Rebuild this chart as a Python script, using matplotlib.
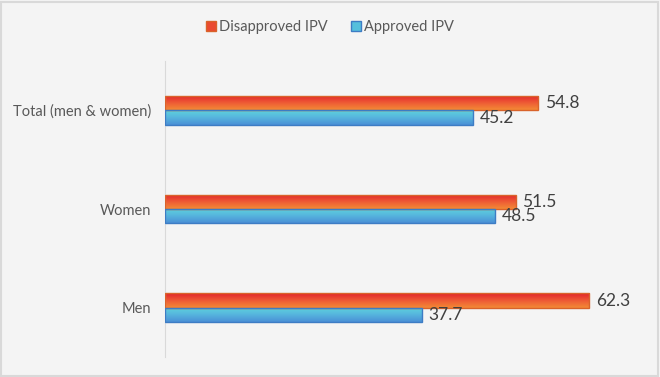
import numpy as np
import matplotlib
matplotlib.use("Agg")
import matplotlib.pyplot as plt
from matplotlib.colors import LinearSegmentedColormap
from matplotlib.patches import Patch, Rectangle

plt.rcParams["font.family"] = ["Lato", "DejaVu Sans"]

categories = ["Men", "Women", "Total (men & women)"]
disapproved = [62.3, 51.5, 54.8]
approved = [37.7, 48.5, 45.2]
series_names = ["Disapproved IPV", "Approved IPV"]

BG = "#f4f4f4"
red_cmap = LinearSegmentedColormap.from_list("red", ["#e2232b", "#ee5a35", "#f38a35"])
blue_cmap = LinearSegmentedColormap.from_list("blue", ["#5ed3dc", "#56b5de", "#4a8fd6"])


def gradient_fill(ax, bars, cmap):
    # paint a vertical gradient inside each bar, clipped to the bar shape
    grad = np.linspace(0, 1, 64).reshape(-1, 1)
    for b in bars:
        x0, y0 = b.get_x(), b.get_y()
        w, h = b.get_width(), b.get_height()
        im = ax.imshow(grad, cmap=cmap, aspect="auto", origin="upper",
                       extent=(x0, x0 + w, y0, y0 + h), zorder=2)
        im.set_clip_path(b)


fig = plt.figure(figsize=(6.6, 3.77), dpi=100, facecolor=BG)
fig.patches.append(Rectangle((0.002, 0.003), 0.995, 0.993, transform=fig.transFigure,
                             fill=False, edgecolor="#d9d9d9", linewidth=1.5))
ax = fig.add_axes([0.25, 0.053, 0.735, 0.785])
ax.set_facecolor(BG)

y = np.arange(len(categories))
h = 0.145
b_red = ax.barh(y + h / 2, disapproved, height=h, color="none",
                edgecolor="#d9632a", linewidth=1.0, zorder=3)
b_blue = ax.barh(y - h / 2, approved, height=h, color="none",
                 edgecolor="#3d7cc4", linewidth=1.0, zorder=3)
gradient_fill(ax, b_red, red_cmap)
gradient_fill(ax, b_blue, blue_cmap)

for bars, vals in ((b_red, disapproved), (b_blue, approved)):
    for b, v in zip(bars, vals):
        ax.text(v + 1.0, b.get_y() + b.get_height() / 2, f"{v}",
                va="center", ha="left", fontsize=12.5, color="#404040")

ax.set_xlim(0, 71.25)
ax.set_ylim(-0.5, 2.5)
ax.set_yticks(y)
ax.set_yticklabels(categories, fontsize=10.5, color="#595959")
ax.tick_params(axis="y", length=0, pad=10)
ax.set_xticks([])
for s in ("top", "right", "bottom"):
    ax.spines[s].set_visible(False)
ax.spines["left"].set_color("#d9d9d9")

handles = [Patch(facecolor="#ea4a30", edgecolor="#d9632a"),
           Patch(facecolor="#55bfdc", edgecolor="#3d7cc4")]
fig.legend(handles, series_names, loc="center", bbox_to_anchor=(0.5, 0.928),
           ncol=2, frameon=False, fontsize=10.5, handlelength=0.7,
           handleheight=0.7, handletextpad=0.2, columnspacing=1.6,
           labelcolor="#595959")

fig.savefig("out.png", dpi=100, facecolor=BG)
